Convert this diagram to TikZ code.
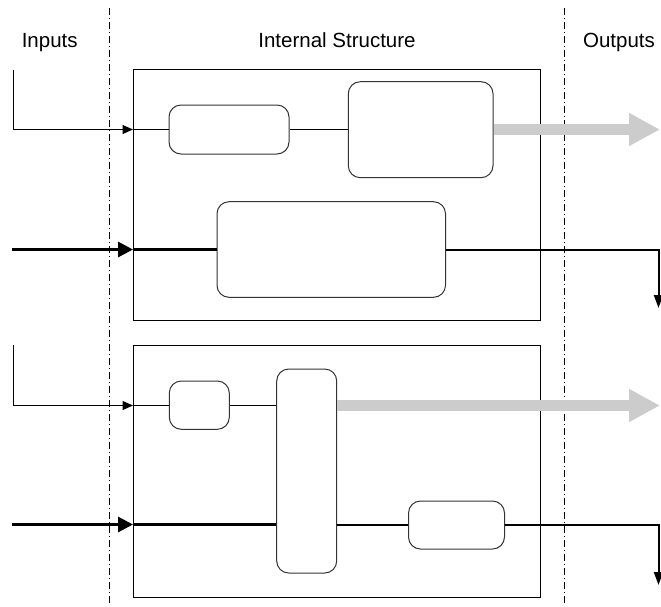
\documentclass[tikz,border=0pt]{standalone}
\usepackage{fontspec}
\setmainfont{Liberation Sans}
\usetikzlibrary{arrows.meta}

\begin{document}
\begin{tikzpicture}[x=1pt,y=-1pt,
  frame/.style={draw=black,line width=1pt,inner sep=0pt},
  blk/.style={draw=black!80,line width=1pt,rounded corners=12pt,inner sep=0pt},
  lbl/.style={font=\fontsize{20.5}{24}\selectfont,inner sep=0pt,anchor=base},
  sepline/.style={line width=0.8pt,dash pattern=on 7pt off 3pt on 1pt off 3pt},
  thinwire/.style={line width=1pt},
  thinin/.style={line width=1pt,-{Triangle[length=10.5pt,width=9pt]}},
  thickwire/.style={line width=3pt},
  thickin/.style={line width=3pt,-{Triangle[length=15pt,width=15pt]}},
  outwire/.style={line width=2pt,-{Triangle[length=13pt,width=9pt]}},
  grayout/.style={line width=11pt,draw=black!20,-{Triangle[length=31pt,width=31pt]}}
]
\useasboundingbox (0,0) rectangle (661,606);

% column labels
\node[lbl] (tin)  at (49.7,47.3) {Inputs};
\node[lbl] (tmid) at (337,47.3)  {Internal Structure};
\node[lbl] (tout) at (619,47.3)  {Outputs};

% column separators
\draw[sepline] (109.5,8) -- (109.5,606);
\draw[sepline] (564.5,8) -- (564.5,606);

% outer frames
\node[frame,minimum width=407.5pt,minimum height=251pt] (box1) at (336.75,195) {};
\node[frame,minimum width=407.5pt,minimum height=252pt] (box2) at (336.75,471) {};

% blocks of the upper frame
\node[blk,minimum width=120pt,minimum height=49pt]   (A) at (229,129.5) {};
\node[blk,minimum width=144.7pt,minimum height=96pt] (B) at (420.65,129.7) {};
\node[blk,minimum width=228.5pt,minimum height=95.6pt] (C) at (331.25,249.5) {};

% blocks of the lower frame
\node[blk,minimum width=60pt,minimum height=48.3pt] (D) at (199.3,405.15) {};
\node[blk,minimum width=60pt,minimum height=204pt]  (E) at (306.7,471) {};
\node[blk,minimum width=96pt,minimum height=48pt]   (F) at (456.5,525) {};

% entry points and free ends
\coordinate (s1) at (13,70);
\coordinate (s2) at (12,249.5);
\coordinate (s3) at (13,345);
\coordinate (s4) at (12,524.5);
\coordinate (e1) at (133,129.5);
\coordinate (e2) at (133,249.5);
\coordinate (e3) at (133,405.5);
\coordinate (e4) at (133,524.5);
\coordinate (g1) at (660,129.5);
\coordinate (g2) at (660,405.5);
\coordinate (c2) at (658.5,249.5);
\coordinate (d2) at (658.5,308);
\coordinate (c4) at (658.5,524.5);
\coordinate (d4) at (658.5,585);

% upper frame connections
\draw[thinin] (s1) |- (e1);
\draw[thinwire] (e1) -- (A.west);
\draw[thinwire] (A.east) -- (B.west |- A.east);
\draw[grayout] (B.east |- g1) -- (g1);

\draw[thickin] (s2) -- (e2);
\draw[thickwire] (e2) -- (C.west);
\draw[outwire] (C.east) -- (c2) -- (d2);

% lower frame connections
\draw[thinin] (s3) |- (e3);
\draw[thinwire] (e3) -- (D.west |- e3);
\draw[thinwire] (D.east |- e3) -- (E.west |- e3);
\draw[grayout] (E.east |- g2) -- (g2);

\draw[thickin] (s4) -- (e4);
\draw[thickwire] (e4) -- (E.west |- e4);
\draw[line width=2pt] (E.east |- e4) -- (F.west |- e4);
\draw[outwire] (F.east |- e4) -- (c4) -- (d4);
\end{tikzpicture}
\end{document}
